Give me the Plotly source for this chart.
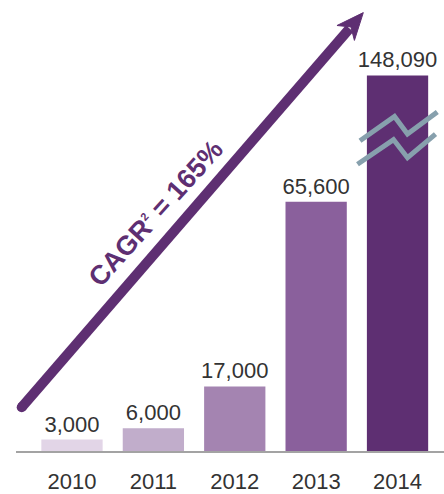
import plotly.graph_objects as go

# ---- data ----
years = ["2010", "2011", "2012", "2013", "2014"]
values = [3000, 6000, 17000, 65600, 148090]
bar_colors = ["#e2d5e7", "#c1adcb", "#a484b1", "#8a609c", "#5e2f72"]
cagr_label = "CAGR<sup><span style='font-size:11px'>2</span></sup> = 165%"

# ---- layout constants ----
W, H = 444, 494
ML, MR, MT, MB = 16, 0, 0, 40
PW, PH = W - ML - MR, H - MT - MB
Y_MAX = 118655          # top of the value axis
BREAK_CAP = 98800       # drawn height of the broken (last) bar
PURPLE = "#5e2f72"
BREAK_GREY = "#87a0ad"


def P(x, y):
    """pixel (from top-left of page) -> paper coords"""
    return (x - ML) / PW, (H - MB - y) / PH


drawn = [min(v, BREAK_CAP) for v in values]
labels = [f"{v:,}" for v in values]

fig = go.Figure(
    go.Bar(
        x=years,
        y=drawn,
        marker=dict(color=bar_colors, line=dict(width=0)),
        text=labels,
        textposition="outside",
        constraintext="none",
        cliponaxis=False,
        textfont=dict(size=22, color="#333333", family="Liberation Sans, Arial"),
        hoverinfo="skip",
    )
)

shapes = []

# arrow shaft + round tail + head
tail = (21.7, 410.0)
tip = (363.3, 12.7)
dx, dy = tip[0] - tail[0], tip[1] - tail[1]
L = (dx * dx + dy * dy) ** 0.5
ux, uy = dx / L, dy / L
nx, ny = -uy, ux
head_len, head_half, notch = 27.0, 11.5, 19.0
notch_pt = (tip[0] - ux * notch, tip[1] - uy * notch)
wing1 = (tip[0] - ux * head_len + nx * head_half, tip[1] - uy * head_len + ny * head_half)
wing2 = (tip[0] - ux * head_len - nx * head_half, tip[1] - uy * head_len - ny * head_half)
shaft_end = (tip[0] - ux * (notch + 2), tip[1] - uy * (notch + 2))

x0, y0 = P(*tail)
x1, y1 = P(*shaft_end)
shapes.append(dict(type="line", xref="paper", yref="paper", x0=x0, y0=y0, x1=x1, y1=y1,
                   line=dict(color=PURPLE, width=10), layer="above"))
r = 5
cx0, cy0 = P(tail[0] - r, tail[1] + r)
cx1, cy1 = P(tail[0] + r, tail[1] - r)
shapes.append(dict(type="circle", xref="paper", yref="paper", x0=cx0, y0=cy0, x1=cx1, y1=cy1,
                   fillcolor=PURPLE, line=dict(width=0), layer="above"))


def path(points, close=False):
    pts = [P(*p) for p in points]
    s = "M " + " L ".join(f"{a:.5f},{b:.5f}" for a, b in pts)
    return s + (" Z" if close else "")


shapes.append(dict(type="path", xref="paper", yref="paper",
                   path=path([tip, wing1, notch_pt, wing2], close=True),
                   fillcolor=PURPLE, line=dict(color=PURPLE, width=1), layer="above"))

# axis-break zigzags on the last bar
upper = [(360, 141.7), (394.5, 117.3), (407.5, 135.0), (437.3, 112.7)]
lower = [(357.5, 165.3), (393.5, 140.5), (407.5, 158.8), (435.5, 135.0)]
for zz in (upper, lower):
    shapes.append(dict(type="path", xref="paper", yref="paper", path=path(zz),
                       line=dict(color=BREAK_GREY, width=5), layer="above"))

ax_, ay_ = P(155, 215)
annotations = [dict(
    text=cagr_label, x=ax_, y=ay_, xref="paper", yref="paper",
    showarrow=False, textangle=-48, xanchor="center", yanchor="middle",
    font=dict(size=27, color=PURPLE, family="Liberation Sans, Arial", weight="bold"),
)]

fig.update_layout(
    width=W, height=H,
    margin=dict(l=ML, r=MR, t=MT, b=MB, pad=0),
    paper_bgcolor="white", plot_bgcolor="white",
    showlegend=False,
    bargap=0.247,
    font=dict(family="Liberation Sans, Arial", color="#333333"),
    xaxis=dict(type="category", range=[-0.688, 4.571], showline=True,
               linecolor="#a3a3a3", linewidth=2, ticks="", showgrid=False,
               tickfont=dict(size=22, color="#333333"), ticklabelstandoff=10,
               fixedrange=True),
    yaxis=dict(range=[0, Y_MAX], visible=False, showgrid=False, zeroline=False,
               fixedrange=True),
    shapes=shapes,
    annotations=annotations,
)

fig.write_html("out.html", config={"displayModeBar": False})
